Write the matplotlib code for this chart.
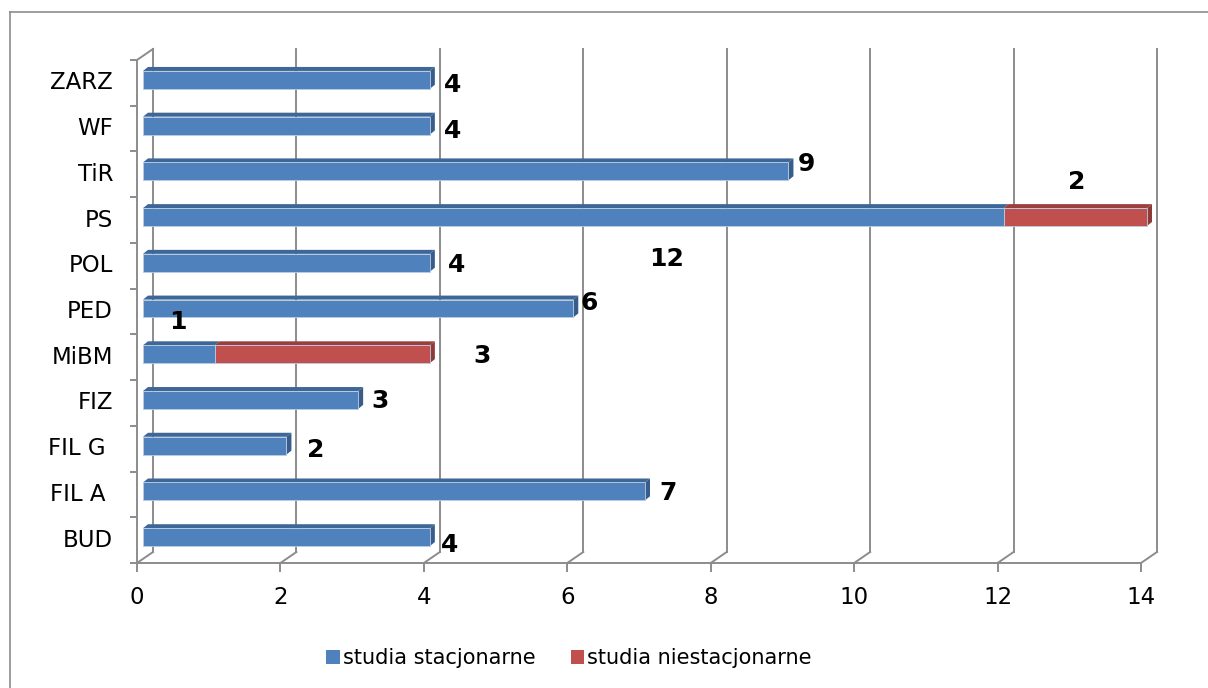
import numpy as np
import matplotlib
matplotlib.use("Agg")
import matplotlib.pyplot as plt
from matplotlib.patches import Polygon, Patch
from matplotlib.lines import Line2D

# dane (od dolu do gory)
kierunki = ["BUD", "FIL A ", "FIL G ", "FIZ", "MiBM", "PED", "POL", "PS", "TiR", "WF", "ZARZ"]
stacjonarne = [4, 7, 2, 3, 1, 6, 4, 12, 9, 4, 4]
niestacjonarne = [0, 0, 0, 0, 3, 0, 0, 2, 0, 0, 0]
x_ticks = [0, 2, 4, 6, 8, 10, 12, 14]

# przesuniecia etykiet (px, w dol dodatnie) - tak jak w oryginale z Excela
off_stac = [(20, 8), (23, 2), (29, 4), (22, 1), (-37, -32), (16, -5), (27, 2), (-337, 42), (18, -7), (23, 5), (23, 5)]
off_niestac = [None, None, None, None, (52, 2), None, None, (-70, -35), None, None, None]

blue, blue_top, blue_side = "#4F81BD", "#3E6696", "#385D8A"
red, red_top, red_side = "#C0504D", "#9A3F3C", "#8E3A38"
grid_c = "#8C8C8C"

W, H = 1208, 688
fig = plt.figure(figsize=(W / 100, H / 100), dpi=100)
# tylna sciana wykresu
L, R, T, B = 153, 1157, 49, 552
ax = fig.add_axes([L / W, 1 - B / H, (R - L) / W, (B - T) / H])
ax.set_xlim(0, 14)
ax.set_ylim(-0.5, 10.5)
ax.axis("off")

ux = 14 / (R - L)
uy = 11 / (B - T)


def px(dx, dy):
    return dx * ux, -dy * uy


fx, fy = px(-16, 11)   # przednia plaszczyzna
bx, by = px(-10, 8)    # przod slupka
kx, ky = px(-5, 4)     # tyl slupka
h = 0.39

# siatka na tylnej scianie + skosy na podlodze
for k in x_ticks:
    ax.plot([k, k], [-0.5, 10.5], color=grid_c, lw=1.4, clip_on=False, zorder=1)
    ax.plot([k, k + fx], [-0.5, -0.5 + fy], color=grid_c, lw=1.4, clip_on=False, zorder=1)
    ax.plot([k + fx, k + fx], [-0.5 + fy, -0.5 + fy + px(0, 8)[1]], color=grid_c, lw=1.4, clip_on=False, zorder=1)
    ax.annotate(str(k), (k + fx, -0.5 + fy), xytext=(0, -25), textcoords="offset points",
                ha="center", va="center", fontsize=16.5, annotation_clip=False)

# podloga i lewa sciana
ax.plot([fx, 14 + fx], [-0.5 + fy, -0.5 + fy], color=grid_c, lw=1.4, clip_on=False, zorder=1)
ax.plot([fx, fx], [-0.5 + fy, 10.5 + fy], color=grid_c, lw=1.4, clip_on=False, zorder=1)
ax.plot([fx, 0], [10.5 + fy, 10.5], color=grid_c, lw=1.4, clip_on=False, zorder=1)
tx = px(-6, 0)[0]
for j in range(len(kierunki) + 1):
    yb = -0.5 + j + fy
    ax.plot([fx + tx, fx], [yb, yb], color=grid_c, lw=1.4, clip_on=False, zorder=1)

y = np.arange(len(kierunki))
for i, nazwa in enumerate(kierunki):
    ax.text(fx + px(-24, 0)[0], i + fy, nazwa, ha="right", va="center", fontsize=16.5)


def bar3d(x0, x1, yc, front, top, side, with_side):
    yt = yc + h / 2
    yb = yc - h / 2
    ax.add_patch(Polygon([(x0 + bx, yt + by), (x1 + bx, yt + by), (x1 + kx, yt + ky), (x0 + kx, yt + ky)],
                         closed=True, fc=top, ec="none", zorder=3, clip_on=False))
    if with_side:
        ax.add_patch(Polygon([(x1 + bx, yt + by), (x1 + kx, yt + ky), (x1 + kx, yb + ky), (x1 + bx, yb + by)],
                             closed=True, fc=side, ec="none", zorder=3, clip_on=False))
    ax.add_patch(Polygon([(x0 + bx, yb + by), (x1 + bx, yb + by), (x1 + bx, yt + by), (x0 + bx, yt + by)],
                         closed=True, fc=front, ec="#B9CDE5", lw=0.6, zorder=4, clip_on=False))


for i in range(len(kierunki)):
    s = stacjonarne[i]
    n = niestacjonarne[i]
    bar3d(0, s, y[i], blue, blue_top, blue_side, n == 0)
    if n > 0:
        bar3d(s, s + n, y[i], red, red_top, red_side, True)

# etykiety danych
for i in range(len(kierunki)):
    s = stacjonarne[i]
    n = niestacjonarne[i]
    dx, dy = off_stac[i]
    ax.annotate(str(s), (s + bx, y[i] + by), xytext=(dx * 0.72, -dy * 0.72), textcoords="offset points",
                ha="center", va="center", fontsize=18, fontweight="bold", zorder=6, annotation_clip=False)
    if n > 0:
        dx, dy = off_niestac[i]
        ax.annotate(str(n), (s + n + bx, y[i] + by), xytext=(dx * 0.72, -dy * 0.72), textcoords="offset points",
                    ha="center", va="center", fontsize=18, fontweight="bold", zorder=6, annotation_clip=False)

# legenda
handles = [Patch(fc=blue, ec="none", label="studia stacjonarne"),
           Patch(fc=red, ec="none", label="studia niestacjonarne")]
fig.legend(handles=handles, loc="center", bbox_to_anchor=(569 / W, 1 - 658 / H), ncol=2, frameon=False,
           fontsize=15, handlelength=0.65, handleheight=0.65, handletextpad=0.15, columnspacing=1.7)

# ramka obszaru wykresu
fig.add_artist(Line2D([10 / W, 1], [1 - 12 / H, 1 - 12 / H], color="#8C8C8C", lw=1.2))
fig.add_artist(Line2D([10 / W, 10 / W], [0, 1 - 12 / H], color="#8C8C8C", lw=1.2))

fig.savefig("out.png", dpi=100)
